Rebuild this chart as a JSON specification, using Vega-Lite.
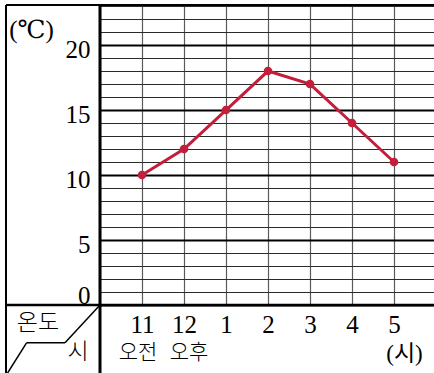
{
  "$schema": "https://vega.github.io/schema/vega-lite/v6.json",
  "width": 336,
  "height": 300,
  "autosize": {"type": "none"},
  "padding": {"left": 100, "top": 5, "right": 0, "bottom": 68},
  "background": "white",
  "config": {
    "view": {"stroke": null},
    "axis": {
      "domain": false,
      "ticks": false,
      "tickSize": 0,
      "grid": true,
      "labelColor": "black",
      "labelOverlap": false,
      "labelBound": false,
      "labelFlush": false,
      "titleColor": "black",
      "titleFontWeight": "normal"
    },
    "axisX": {
      "tickCount": 8,
      "gridColor": "#5a5a5a",
      "gridWidth": 1.2,
      "labelExpr": "datum.value < 0 || datum.value > 6 ? '' : datum.value == 0 ? '11' : datum.value == 1 ? '12' : '' + (datum.value - 1)",
      "labelFont": "Liberation Serif",
      "labelFontSize": 25,
      "labelBaseline": "alphabetic",
      "labelPadding": 27,
      "titleFont": "Liberation Serif, Noto Sans CJK KR",
      "titleFontSize": 23,
      "titleAlign": "center",
      "titleBaseline": "middle",
      "titleX": 304,
      "titleY": 48
    },
    "axisY": {
      "tickCount": 23,
      "gridColor": {"condition": {"test": "datum.value % 5 === 0", "value": "#000000"}, "value": "#2a2a2a"},
      "gridWidth": {"condition": {"test": "datum.value % 5 === 0", "value": 2.2}, "value": 1},
      "labelExpr": "datum.value % 5 === 0 ? datum.label : ''",
      "labelFont": "Liberation Serif",
      "labelFontSize": 25,
      "labelAlign": "right",
      "labelBaseline": "alphabetic",
      "labelOffset": {"condition": {"test": "datum.value === 0", "value": -2}, "value": 12.5},
      "labelPadding": 10,
      "titleFont": "Liberation Serif, DejaVu Serif, Noto Sans CJK KR",
      "titleFontSize": 25,
      "titleAngle": 0,
      "titleAlign": "center",
      "titleBaseline": "middle",
      "titleX": -69,
      "titleY": 24
    }
  },
  "data": {
    "values": [
      {"i": 0, "time": "11", "temp": 10},
      {"i": 1, "time": "12", "temp": 12},
      {"i": 2, "time": "1", "temp": 15},
      {"i": 3, "time": "2", "temp": 18},
      {"i": 4, "time": "3", "temp": 17},
      {"i": 5, "time": "4", "temp": 14},
      {"i": 6, "time": "5", "temp": 11}
    ]
  },
  "layer": [
    {
      "mark": {
        "type": "line",
        "color": "#c41e3a",
        "strokeWidth": 3,
        "point": {"filled": true, "size": 75, "color": "#c41e3a", "opacity": 1}
      },
      "encoding": {
        "x": {
          "field": "i",
          "type": "quantitative",
          "scale": {"domain": [-1, 7], "nice": false, "zero": false},
          "axis": {"title": "(시)"}
        },
        "y": {
          "field": "temp",
          "type": "quantitative",
          "scale": {"domain": [0, 23.08], "nice": false, "zero": false},
          "axis": {"title": "(℃)"}
        }
      }
    },
    {
      "data": {"values": [{}]},
      "mark": {"type": "rule", "color": "black", "strokeWidth": 2},
      "encoding": {
        "x": {"datum": -3.238, "type": "quantitative"},
        "y": {"datum": 23.08, "type": "quantitative"},
        "y2": {"datum": -5.6}
      }
    },
    {
      "data": {"values": [{}]},
      "mark": {"type": "rule", "color": "black", "strokeWidth": 2.2},
      "encoding": {
        "x": {"datum": -3.238, "type": "quantitative"},
        "x2": {"datum": 7.2},
        "y": {"datum": 23.08, "type": "quantitative"}
      }
    },
    {
      "data": {"values": [{}]},
      "mark": {"type": "rule", "color": "black", "strokeWidth": 2.6},
      "encoding": {
        "x": {"datum": -3.238, "type": "quantitative"},
        "x2": {"datum": 7.2},
        "y": {"datum": 0, "type": "quantitative"}
      }
    },
    {
      "data": {"values": [{}]},
      "mark": {"type": "rule", "color": "black", "strokeWidth": 3},
      "encoding": {
        "x": {"datum": -1, "type": "quantitative"},
        "y": {"datum": 23.08, "type": "quantitative"},
        "y2": {"datum": -5.6}
      }
    },
    {
      "data": {"values": [{}]},
      "mark": {"type": "rule", "color": "black", "strokeWidth": 1.5},
      "encoding": {
        "x": {"datum": -1, "type": "quantitative"},
        "x2": {"datum": -1.833},
        "y": {"datum": 0, "type": "quantitative"},
        "y2": {"datum": -2.9}
      }
    },
    {
      "data": {"values": [{}]},
      "mark": {"type": "rule", "color": "black", "strokeWidth": 1.5},
      "encoding": {
        "x": {"datum": -1.833, "type": "quantitative"},
        "x2": {"datum": -2.745},
        "y": {"datum": -2.9, "type": "quantitative"}
      }
    },
    {
      "data": {"values": [{}]},
      "mark": {"type": "rule", "color": "black", "strokeWidth": 1.5},
      "encoding": {
        "x": {"datum": -2.745, "type": "quantitative"},
        "x2": {"datum": -3.2},
        "y": {"datum": -2.9, "type": "quantitative"},
        "y2": {"datum": -5.23}
      }
    },
    {
      "data": {"values": [{}]},
      "mark": {"type": "text", "text": "온도", "font": "Noto Sans CJK KR", "fontSize": 23, "fontWeight": 300, "color": "black", "align": "center", "baseline": "middle"},
      "encoding": {
        "x": {"datum": -2.476, "type": "quantitative"},
        "y": {"datum": -1.385, "type": "quantitative"}
      }
    },
    {
      "data": {"values": [{}]},
      "mark": {"type": "text", "text": "시", "font": "Noto Sans CJK KR", "fontSize": 23, "fontWeight": 300, "color": "black", "align": "center", "baseline": "middle"},
      "encoding": {
        "x": {"datum": -1.524, "type": "quantitative"},
        "y": {"datum": -3.615, "type": "quantitative"}
      }
    },
    {
      "data": {"values": [{}]},
      "mark": {"type": "text", "text": "오전", "font": "Noto Sans CJK KR", "fontSize": 21, "fontWeight": 300, "color": "black", "align": "center", "baseline": "middle", "dx": -4},
      "encoding": {
        "x": {"datum": 0, "type": "quantitative"},
        "y": {"datum": -3.69, "type": "quantitative"}
      }
    },
    {
      "data": {"values": [{}]},
      "mark": {"type": "text", "text": "오후", "font": "Noto Sans CJK KR", "fontSize": 21, "fontWeight": 300, "color": "black", "align": "center", "baseline": "middle", "dx": 5},
      "encoding": {
        "x": {"datum": 1, "type": "quantitative"},
        "y": {"datum": -3.69, "type": "quantitative"}
      }
    }
  ]
}
